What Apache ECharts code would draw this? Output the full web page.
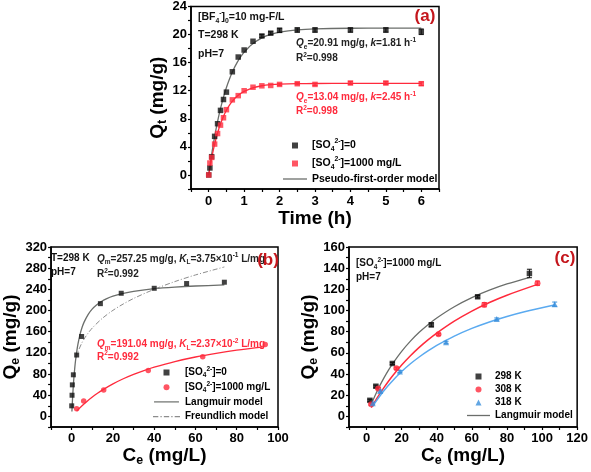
<!DOCTYPE html>
<html><head><meta charset="utf-8">
<script src="https://cdn.jsdelivr.net/npm/echarts@6/dist/echarts.min.js"></script>
<style>html,body{margin:0;padding:0;background:#fff}#c{width:591px;height:472px}</style>
</head><body><div id="c"></div>
<script>
// ---------- Panel (a): kinetics ----------
const timeA    = [0, 0.033, 0.083, 0.167, 0.25, 0.333, 0.417, 0.5, 0.667, 0.833, 1, 1.25, 1.5, 1.75, 2, 2.5, 3, 4, 5, 6];
const qtA0     = [0, 1.0, 2.6, 5.5, 7.3, 9.2, 10.75, 11.8, 14.7, 16.8, 17.8, 19.05, 19.8, 20.2, 20.6, 20.65, 20.65, 20.65, 20.65, 20.4];
const errA0    = [0, 0, 0, 0, 0, 0, 0, 0, 0, 0, 0, 0, 0.2, 0.2, 0.3, 0.3, 0.3, 0.3, 0.3, 0.4];
const qtA1000  = [0, 1.7, 2.5, 4.4, 5.9, 7.1, 8.15, 9.3, 10.7, 11.3, 12.0, 12.5, 12.7, 12.75, 12.9, 13.0, 12.9, 13.1, 13.1, 13.0];
const errA1000 = [0, 0, 0, 0, 0, 0, 0, 0, 0, 0, 0, 0, 0, 0, 0.15, 0.15, 0.15, 0.2, 0.2, 0.25];
const tFitA    = [0, 0.05, 0.1, 0.15, 0.2, 0.3, 0.4, 0.5, 0.6, 0.7, 0.8, 0.9, 1.0, 1.2, 1.5, 1.75, 2, 2.5, 3, 4, 5, 6];
const fitA0    = [0, 1.81, 3.46, 4.97, 6.35, 8.76, 10.77, 12.45, 13.85, 15.02, 16.0, 16.81, 17.49, 18.53, 19.53, 20.03, 20.35, 20.68, 20.82, 20.90, 20.91, 20.91];
const fitA1000 = [0, 1.50, 2.83, 4.01, 5.05, 6.79, 8.15, 9.21, 10.04, 10.69, 11.20, 11.60, 11.91, 12.35, 12.71, 12.86, 12.94, 13.01, 13.03, 13.04, 13.04, 13.04];

// ---------- Panel (b): isotherms at 298 K ----------
const ceB0      = [0.0, 0.16, 0.3, 0.8, 2.4, 4.8, 13.9, 24, 40, 55.7, 74];
const qeB0      = [20, 40, 59.6, 78.6, 116, 151, 213, 232.6, 242, 251, 253.5];
const ceB1000   = [2.4, 5.8, 15.5, 37.1, 63.5, 93.8];
const qeB1000   = [14.6, 29, 50, 86.8, 112.5, 136];
const ceLangB0  = [0.1, 0.2, 0.3, 0.5, 0.75, 1, 1.5, 2, 2.5, 3, 4, 5, 6, 8, 10, 12, 14, 17, 20, 25, 30, 40, 50, 60, 74];
const qLangB0   = [9.3, 17.95, 26.0, 40.6, 56.5, 70.2, 92.6, 110.3, 124.4, 136.2, 154.4, 167.8, 178.1, 192.9, 203.1, 210.5, 216.1, 222.4, 227.0, 232.5, 236.2, 241.2, 244.2, 246.3, 248.3];
const ceFreuB0  = [2, 3, 5, 7, 10, 15, 20, 25, 30, 40, 50, 60, 74];
const qFreuB0   = [109.6, 121.9, 139.4, 152.2, 167.1, 185.8, 200.4, 212.4, 222.8, 240.1, 254.7, 267.2, 282.3];
const ceLangB1  = [2.4, 5, 7.5, 10, 12.5, 15, 20, 25, 30, 35, 40, 50, 60, 70, 80, 93];
const qLangB1   = [10.3, 20.2, 28.8, 36.6, 43.7, 50.1, 61.4, 71.1, 79.4, 86.6, 93.0, 103.6, 112.2, 119.2, 125.1, 131.4];

// ---------- Panel (c): temperature ----------
const ce298 = [1.9, 5.3, 14.7, 36.9, 63.3, 92.8];
const qe298 = [15.2, 28.5, 50, 86.5, 113, 135];
const er298 = [1, 1, 1, 1.8, 1.2, 4];
const ce308 = [2.6, 6.6, 17, 41, 67.1, 97.4];
const qe308 = [11.5, 26.3, 45.5, 77.5, 105.5, 125.8];
const er308 = [1, 1, 1, 1, 2, 2];
const ce318 = [3.5, 7.8, 19, 45.3, 74.2, 107.2];
const qe318 = [12.5, 24, 42.5, 70, 92, 106];
const er318 = [1, 1, 1, 1, 1, 2];
const cFit298 = [2.5, 5, 7.5, 10, 12.5, 15, 20, 25, 30, 35, 40, 50, 60, 70, 80, 93];
const qFit298 = [10.7, 20.2, 28.8, 36.6, 43.7, 50.1, 61.4, 71.1, 79.4, 86.6, 93.0, 103.6, 112.2, 119.2, 125.1, 131.4];
const cFit308 = [2.7, 5, 7.5, 10, 12.5, 15, 20, 25, 30, 35, 40, 50, 60, 70, 80, 97.4];
const qFit308 = [8.2, 14.65, 21.2, 27.4, 33.2, 38.6, 48.5, 57.3, 65.2, 72.3, 78.75, 90.0, 99.5, 107.6, 114.5, 124.7];
const cFit318 = [3.5, 5, 7.5, 10, 12.5, 15, 20, 25, 30, 35, 40, 50, 60, 70, 80, 90, 107];
const qFit318 = [9.5, 13.2, 19.0, 24.4, 29.4, 34.0, 42.35, 49.7, 56.1, 61.8, 67.0, 75.8, 83.1, 89.2, 94.4, 98.9, 105.3];

// ---------- styling ----------
const F = "'Liberation Sans', Arial, sans-serif";
const BLACK = '#111111', RED = '#ff2a3c', BLUE = '#3b90dc', BLUEL = '#5aaaf0', GRAY = '#6b6e6b', GRAYL = '#8c8c8c', TITLE = '#c4161c';

function rich(fs, color, lh) {
  const base = {fontSize: fs, fontWeight: 'bold', fontFamily: F, color: color, fill: color, lineHeight: lh};
  const s = Math.round(fs * 0.65 * 10) / 10;
  return {
    n: base,
    i: Object.assign({}, base, {fontStyle: 'italic'}),
    sub: Object.assign({}, base, {fontSize: s, lineHeight: s + 1, verticalAlign: 'bottom'}),
    sup: Object.assign({}, base, {fontSize: s, lineHeight: s + 1, verticalAlign: 'top'})
  };
}
const zip = (a, b) => a.map((v, i) => [v, b[i]]);
const zip3 = (a, b, c) => a.map((v, i) => [v, b[i], c[i]]);

function axis(gi, min, max, step, major, name, gap, margin) {
  return {
    type: 'value', gridIndex: gi, min: min, max: max, interval: step,
    axisLine: {show: true, onZero: false, lineStyle: {color: '#000', width: 1.5}},
    axisTick: {show: true, inside: false, length: 3, lineStyle: {color: '#000', width: 1.2}},
    splitLine: {show: false},
    axisLabel: {
      margin: margin, color: '#000', fontSize: 13, fontWeight: 'bold', fontFamily: F,
      formatter: v => {
        const r = v / major;
        return (v >= 0 && Math.abs(r - Math.round(r)) < 1e-6) ? String(Math.round(v * 1000) / 1000) : '';
      }
    },
    name: name, nameLocation: 'middle', nameGap: gap,
    nameTextStyle: {fontSize: 19, fontWeight: 'bold', fontFamily: F, color: '#000', rich: rich(19, '#000', 22)}
  };
}

function errSeries(xi, xs, ys, es, color) {
  return {
    type: 'custom', xAxisIndex: xi, yAxisIndex: xi, z: 3, silent: true,
    data: zip3(xs, ys, es), encode: {x: 0, y: 1},
    renderItem: function (params, api) {
      const x = api.value(0), y = api.value(1), e = api.value(2);
      if (!e) return null;
      const hi = api.coord([x, y + e]), lo = api.coord([x, y - e]);
      const st = {stroke: color, lineWidth: 1};
      return {type: 'group', children: [
        {type: 'line', shape: {x1: hi[0], y1: hi[1], x2: lo[0], y2: lo[1]}, style: st},
        {type: 'line', shape: {x1: hi[0] - 2.5, y1: hi[1], x2: hi[0] + 2.5, y2: hi[1]}, style: st},
        {type: 'line', shape: {x1: lo[0] - 2.5, y1: lo[1], x2: lo[0] + 2.5, y2: lo[1]}, style: st}
      ]};
    }
  };
}
function scatter(name, xi, xs, ys, symbol, size, color) {
  return {name: name, type: 'scatter', xAxisIndex: xi, yAxisIndex: xi, data: zip(xs, ys),
    symbol: symbol, symbolSize: size, itemStyle: {color: color}, z: 4};
}
function curve(name, xi, xs, ys, color, width, type) {
  return {name: name, type: 'line', xAxisIndex: xi, yAxisIndex: xi, data: zip(xs, ys),
    symbol: 'none', smooth: 0.3, z: 2,
    itemStyle: {color: color}, lineStyle: {color: color, width: width, type: type || 'solid'}};
}

const SO4 = '{n|[SO}{sub|4}{sup|2-}{n|]';
const legendLabels = {
  a0: SO4 + '=0}', a1000: SO4 + '=1000 mg/L}', aFit: '{n|Pseudo-first-order model}',
  b0: SO4 + '=0}', b1000: SO4 + '=1000 mg/L}', bL: '{n|Langmuir model}', bF: '{n|Freundlich model}',
  c298: '{n|298 K}', c308: '{n|308 K}', c318: '{n|318 K}', cL: '{n|Langmuir model}'
};
const solidIcon = (w, h) => 'path://M0,0h' + w + 'v' + h + 'h-' + w + 'z';
const dashDotIcon = 'path://M0,0h5v1h-5zM7,0h1.2v1h-1.2zM10.2,0h5v1h-5zM17.2,0h1.2v1h-1.2zM20.4,0h5v1h-5z';

// scatter entries: small icon box, text shifted so it lines up with the line entries
function legendMarks(names, lineLeft, top, iw, fs, lh, gap) {
  const sh = (iw - 6) / 2;
  return {
    data: names, orient: 'vertical', left: lineLeft + sh, top: top, itemWidth: 6, itemHeight: 6, itemGap: gap,
    padding: 0, selectedMode: false, formatter: n => legendLabels[n],
    textStyle: {fontSize: fs, fontWeight: 'bold', fontFamily: F, color: '#000', lineHeight: lh,
      padding: [0, 0, 0, sh], rich: rich(fs, '#000', lh)}
  };
}
function legendLines(items, left, top, iw, lw, fs, lh, gap) {
  return {
    data: items, orient: 'vertical', left: left, top: top, itemWidth: iw, itemHeight: lw, itemGap: gap,
    padding: 0, selectedMode: false, formatter: n => legendLabels[n],
    textStyle: {fontSize: fs, fontWeight: 'bold', fontFamily: F, color: '#000', lineHeight: lh, rich: rich(fs, '#000', lh)}
  };
}

function txt(x, y, text, fs, color, lh) {
  return {type: 'text', x: x, y: y, z: 10, silent: true,
    style: {text: text, fill: color, fontSize: fs, fontWeight: 'bold', fontFamily: F,
      verticalAlign: 'middle', align: 'left', rich: rich(fs, color, lh || fs + 4)}};
}
function label(x, y, text) {
  return {type: 'text', x: x, y: y, z: 10, silent: true,
    style: {text: text, fill: TITLE, fontSize: 17, fontWeight: 'bold', fontFamily: F, align: 'center', verticalAlign: 'middle'}};
}

const option = {
  animation: false,
  backgroundColor: '#fff',
  grid: [
    {left: 191, top: 5, width: 248, height: 184, show: true, borderColor: '#000', borderWidth: 1.5, backgroundColor: 'transparent'},
    {left: 47, top: 247, width: 231, height: 180, show: true, borderColor: '#000', borderWidth: 1.5, backgroundColor: 'transparent'},
    {left: 349, top: 247, width: 230, height: 180, show: true, borderColor: '#000', borderWidth: 1.5, backgroundColor: 'transparent'}
  ],
  xAxis: [
    axis(0, -0.5, 6.5, 0.5, 1, 'Time (h)', 20, 6),
    axis(1, -10, 100, 10, 20, '{n|C}{sub|e}{n| (mg/L)}', 15, 5),
    axis(2, -10, 120, 10, 20, '{n|C}{sub|e}{n| (mg/L)}', 15, 5)
  ],
  yAxis: [
    axis(0, -2, 24, 2, 4, '{n|Q}{sub|t}{n| (mg/g)}', 20, 4),
    axis(1, -20, 320, 20, 40, '{n|Q}{sub|e}{n| (mg/g)}', 24, 4),
    axis(2, -10, 160, 10, 20, '{n|Q}{sub|e}{n| (mg/g)}', 28, 4)
  ],
  legend: [
    legendMarks(['a0', 'a1000'], 283, 138, 24, 10.5, 15, 3),
    legendLines([{name: 'aFit', icon: solidIcon(24, 1.3)}], 283, 171.5, 24, 1.3, 10.5, 15, 3),
    legendMarks(['b0', 'b1000'], 153, 366, 27, 10, 13, 1.7),
    legendLines([{name: 'bL', icon: solidIcon(27, 1.3)}, {name: 'bF', icon: dashDotIcon}], 153, 395.4, 27, 1.2, 10, 13, 1.7),
    legendMarks(['c298', 'c308', 'c318'], 467, 370.5, 23, 10, 12, 1),
    legendLines([{name: 'cL', icon: solidIcon(23, 1.3)}], 467, 409.5, 23, 1.3, 10, 12, 1)
  ],
  series: [
    curve('aFit', 0, tFitA, fitA0, GRAY, 1.3),
    curve('aFitRed', 0, tFitA, fitA1000, RED, 1.3),
    errSeries(0, timeA, qtA0, errA0, BLACK),
    errSeries(0, timeA, qtA1000, errA1000, RED),
    scatter('a0', 0, timeA, qtA0, 'rect', 5.5, BLACK),
    scatter('a1000', 0, timeA, qtA1000, 'rect', 5.5, RED),

    curve('bL', 1, ceLangB0, qLangB0, GRAY, 1.3),
    curve('bF', 1, ceFreuB0, qFreuB0, GRAYL, 1, [5, 2, 1, 2]),
    curve('bLRed', 1, ceLangB1, qLangB1, RED, 1.3),
    scatter('b0', 1, ceB0, qeB0, 'rect', 5, BLACK),
    scatter('b1000', 1, ceB1000, qeB1000, 'circle', 5.5, RED),

    curve('cL', 2, cFit298, qFit298, GRAY, 1.3),
    curve('cL308', 2, cFit308, qFit308, RED, 1.5),
    curve('cL318', 2, cFit318, qFit318, BLUEL, 1.5),
    errSeries(2, ce298, qe298, er298, BLACK),
    errSeries(2, ce308, qe308, er308, RED),
    errSeries(2, ce318, qe318, er318, BLUE),
    scatter('c298', 2, ce298, qe298, 'rect', 5.5, BLACK),
    scatter('c308', 2, ce308, qe308, 'circle', 6, RED),
    scatter('c318', 2, ce318, qe318, 'triangle', 6, BLUE)
  ],
  graphic: [
    txt(198, 17, '{n|[BF}{sub|4}{sup|-}{n|]}{sub|0}{n|=10 mg-F/L}', 10.5, BLACK),
    txt(198, 35, '{n|T=298 K}', 10.5, BLACK),
    txt(198, 54, '{n|pH=7}', 10.5, BLACK),
    label(425, 16, '(a)'),
    txt(296, 43.5, '{i|Q}{sub|e}{n|=20.91 mg/g, }{i|k}{n|=1.81 h}{sup|-1}', 10, '#222'),
    txt(296, 58.5, '{n|R}{sup|2}{n|=0.998}', 10, '#222'),
    txt(296, 97.5, '{i|Q}{sub|e}{n|=13.04 mg/g, }{i|k}{n|=2.45 h}{sup|-1}', 10, RED),
    txt(296, 111.5, '{n|R}{sup|2}{n|=0.998}', 10, RED),

    txt(51, 258.5, '{n|T=298 K}', 10, BLACK),
    txt(51, 272.5, '{n|pH=7}', 10, BLACK),
    txt(97, 259, '{i|Q}{sub|m}{n|=257.25 mg/g, }{i|K}{sub|L}{n|=3.75×10}{sup|-1}{n| L/mg}', 10, '#222'),
    txt(97, 274.5, '{n|R}{sup|2}{n|=0.992}', 10, '#222'),
    label(268, 260, '(b)'),
    txt(97, 344.5, '{i|Q}{sub|m}{n|=191.04 mg/g, }{i|K}{sub|L}{n|=2.37×10}{sup|-2}{n| L/mg}', 10, RED),
    txt(97, 357, '{n|R}{sup|2}{n|=0.992}', 10, RED),

    txt(356, 263.5, '{n|[SO}{sub|4}{sup|2-}{n|]=1000 mg/L}', 10, BLACK),
    txt(356, 277, '{n|pH=7}', 10, BLACK),
    label(565, 258, '(c)')
  ]
};
const chart = echarts.init(document.getElementById('c'), null, {renderer: 'canvas'});
chart.setOption(option);
</script></body></html>
